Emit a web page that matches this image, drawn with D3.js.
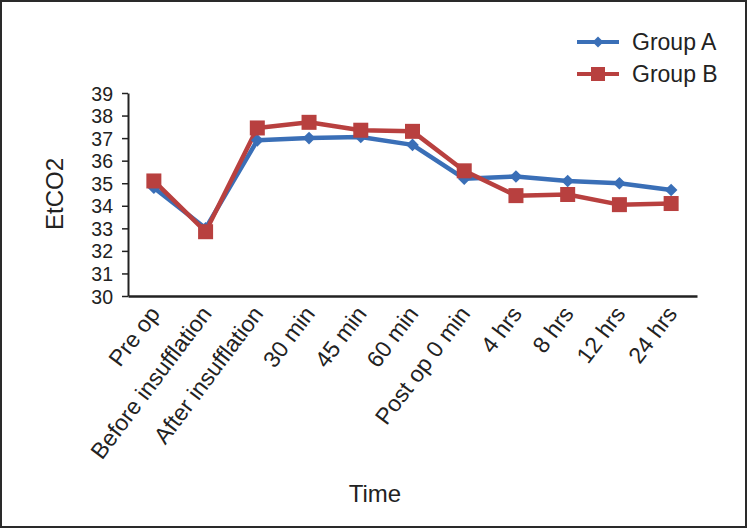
<!DOCTYPE html>
<html><head><meta charset="utf-8">
<script src="https://cdn.jsdelivr.net/npm/d3@7/dist/d3.min.js"></script>
<style>body{margin:0;background:#fff}svg{display:block;font-family:"Liberation Sans",Arial,sans-serif}</style>
</head><body>
<script>
(function(){
const categories = ["Pre op","Before insufflation","After insufflation","30 min","45 min","60 min","Post op 0 min","4 hrs","8 hrs","12 hrs","24 hrs"];
const groupA = [34.8, 33.0, 36.9, 37.0, 37.05, 36.7, 35.2, 35.3, 35.1, 35.0, 34.7];
const groupB = [35.1, 32.85, 37.45, 37.7, 37.35, 37.3, 35.55, 34.45, 34.5, 34.05, 34.1];
const yTicks = [30,31,32,33,34,35,36,37,38,39];
const seriesNames = ["Group A","Group B"];

const W = 747, H = 528;
const svg = d3.select("body").append("svg").attr("width", W).attr("height", H);
svg.append("rect").attr("x",1).attr("y",1).attr("width",W-2).attr("height",H-2)
  .attr("fill","#fff").attr("stroke","#2a2a2a").attr("stroke-width",2);

const mLeft = 128, mRight = 697, mTop = 93, mBottom = 296;
const x = d3.scaleBand().domain(categories).range([mLeft, mRight]);
const y = d3.scaleLinear().domain([30, 39]).range([mBottom, mTop]);

// y axis
const yAxis = svg.append("g").attr("transform", `translate(${mLeft},0)`)
  .call(d3.axisLeft(y).tickValues(yTicks).tickSize(6).tickSizeOuter(0).tickPadding(10));
yAxis.select(".domain").attr("stroke","#222").attr("stroke-width",2);
yAxis.selectAll(".tick line").attr("stroke","#222").attr("stroke-width",1.5);
yAxis.selectAll(".tick text").attr("font-size",19.5).attr("fill","#222").attr("dy","0.36em")
  .attr("x",-15);

// x axis
const xAxis = svg.append("g").attr("transform", `translate(0,${mBottom})`)
  .call(d3.axisBottom(x).tickSize(0).tickSizeOuter(0));
xAxis.select(".domain").attr("stroke","#222").attr("stroke-width",2.5);
xAxis.selectAll(".tick text").attr("font-size",23).attr("fill","#222")
  .attr("text-anchor","end").attr("dy",0).attr("y",0)
  .attr("transform","translate(7,18) rotate(-53)");

svg.append("text").attr("x", 375).attr("y", 502).attr("text-anchor","middle")
  .attr("font-size",24).attr("fill","#222").text("Time");
svg.append("text").attr("transform","translate(63,194) rotate(-90)").attr("text-anchor","middle")
  .attr("font-size",24).attr("fill","#222").text("EtCO2");

const colors = ["#3a6fb7", "#b8403f"];
const cx = d => x(d) + x.bandwidth()/2;
const line = d3.line().x((d,i)=>cx(categories[i])).y(d=>y(d));

[groupA, groupB].forEach((data, si) => {
  svg.append("path").datum(data).attr("d", line).attr("fill","none")
    .attr("stroke", colors[si]).attr("stroke-width", 4.5).attr("stroke-linejoin","round");
});
// markers
svg.selectAll(".mA").data(groupA).enter().append("path")
  .attr("d", d3.symbol().type(d3.symbolSquare).size(80))
  .attr("transform",(d,i)=>`translate(${cx(categories[i])},${y(d)}) rotate(45)`)
  .attr("fill", colors[0]);
svg.selectAll(".mB").data(groupB).enter().append("rect")
  .attr("x",(d,i)=>cx(categories[i])-7.5).attr("y",d=>y(d)-7.5)
  .attr("width",15).attr("height",15).attr("fill", colors[1]);

// legend
const lg = svg.append("g");
seriesNames.forEach((n, i) => {
  const ly = 42 + i*32;
  lg.append("line").attr("x1",577).attr("x2",619).attr("y1",ly).attr("y2",ly)
    .attr("stroke",colors[i]).attr("stroke-width",4);
  if (i === 0) {
    lg.append("path").attr("d", d3.symbol().type(d3.symbolSquare).size(60))
      .attr("transform",`translate(598,${ly}) rotate(45)`).attr("fill",colors[i]);
  } else {
    lg.append("rect").attr("x",591).attr("y",ly-7).attr("width",14).attr("height",14).attr("fill",colors[i]);
  }
  lg.append("text").attr("x",632).attr("y",ly+8).attr("font-size",23).attr("fill","#222").text(n);
});
})();
</script>
</body></html>
